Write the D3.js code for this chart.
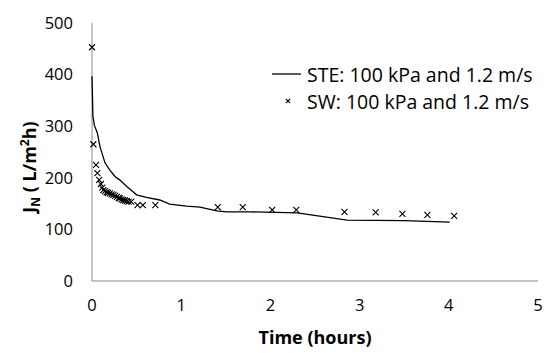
<!DOCTYPE html>
<html lang="en">
<head>
  <meta charset="UTF-8" />
  <title>Flux vs time</title>
  <style>
    body { margin: 0; background: #fff; }
    svg { display: block; background: #fff; font-family: "Open Sans", sans-serif; }
    .tick-label { font-size: 16.5px; fill: #000; }
    .axis-title { font-size: 18px; font-weight: bold; fill: #000; }
    .legend text { font-size: 19.5px; fill: #000; }
  </style>
</head>
<body>
  <svg id="chart" width="555" height="353" viewBox="0 0 555 353" xmlns="http://www.w3.org/2000/svg"></svg>

  <script src="https://d3js.org/d3.v7.min.js"></script>
  <script>
    const width = 555;
    const height = 353;
    const svg = d3.select("#chart");

    // STE line (time in hours, flux in L/m2h)
    const steTime = [0, 0.01, 0.026, 0.06, 0.09, 0.146, 0.2, 0.26, 0.31, 0.39, 0.44, 0.5, 0.61, 0.76, 0.87, 1.06, 1.21, 1.4, 1.51, 1.77, 2.3, 2.86, 3.5, 4.01];
    const steFlux = [397, 320, 302, 287, 260, 229, 215, 202, 196, 183, 176, 167, 162, 157, 149, 145, 143, 136, 134, 134, 132, 118, 117, 114];

    // SW scatter points
    const swTime = [0, 0.015, 0.045, 0.06, 0.08, 0.1, 0.115, 0.127, 0.145, 0.165, 0.18, 0.2, 0.22, 0.24, 0.26, 0.28, 0.3, 0.31, 0.33, 0.35, 0.37, 0.39, 0.41, 0.44, 0.51, 0.57, 0.71, 1.41, 1.69, 2.02, 2.29, 2.83, 3.18, 3.48, 3.76, 4.06];
    const swFlux = [453, 265, 225, 209, 196, 188, 181, 176, 174, 172, 171, 170, 168, 167, 165, 163, 161, 160, 158, 157, 156, 155, 154, 154, 147, 147, 147, 143, 143, 138, 138, 134, 133, 130, 128, 126];

    const xTicks = [0, 1, 2, 3, 4, 5];
    const yTicks = [0, 100, 200, 300, 400, 500];

    const legendLabels = ["STE: 100 kPa and 1.2 m/s", "SW: 100 kPa and 1.2 m/s"];

    const x = d3.scaleLinear().domain([0, 5]).range([92, 538]);
    const y = d3.scaleLinear().domain([0, 500]).range([281, 23]);

    // axes (no tick marks, grey lines)
    svg.append("line")
      .attr("x1", x(0)).attr("x2", x(0))
      .attr("y1", y(500)).attr("y2", y(0))
      .attr("stroke", "#888").attr("stroke-width", 1);
    svg.append("line")
      .attr("x1", x(0)).attr("x2", x(5))
      .attr("y1", y(0)).attr("y2", y(0))
      .attr("stroke", "#888").attr("stroke-width", 1);

    svg.append("g").selectAll("text")
      .data(yTicks)
      .enter().append("text")
      .attr("class", "tick-label")
      .attr("x", 73)
      .attr("y", d => y(d))
      .attr("dy", "0.35em")
      .attr("text-anchor", "end")
      .text(d => d);

    svg.append("g").selectAll("text")
      .data(xTicks)
      .enter().append("text")
      .attr("class", "tick-label")
      .attr("x", d => x(d))
      .attr("y", 305)
      .attr("dy", "0.35em")
      .attr("text-anchor", "middle")
      .text(d => d);

    // axis titles
    svg.append("text")
      .attr("class", "axis-title")
      .attr("x", 315)
      .attr("y", 338)
      .attr("dy", "0.35em")
      .attr("text-anchor", "middle")
      .text("Time (hours)");

    const yTitle = svg.append("text")
      .attr("class", "axis-title")
      .attr("transform", "translate(30,167) rotate(-90)")
      .attr("dy", "0.35em")
      .attr("text-anchor", "middle");
    yTitle.append("tspan").text("J");
    yTitle.append("tspan").attr("font-size", "12px").attr("dy", "4").text("N");
    yTitle.append("tspan").attr("dy", "-4").text(" ( L/m");
    yTitle.append("tspan").attr("font-size", "12px").attr("dy", "-7").text("2");
    yTitle.append("tspan").attr("dy", "7").text("h)");

    // STE line
    const steData = steTime.map((t, i) => [t, steFlux[i]]);
    const line = d3.line().x(d => x(d[0])).y(d => y(d[1]));
    svg.append("path")
      .datum(steData)
      .attr("d", line)
      .attr("fill", "none")
      .attr("stroke", "#000")
      .attr("stroke-width", 1.3);

    // SW crosses
    const cross = (g, cx, cy, r) => {
      g.append("path")
        .attr("d", `M${cx - r},${cy - r}L${cx + r},${cy + r}M${cx - r},${cy + r}L${cx + r},${cy - r}`)
        .attr("stroke", "#000")
        .attr("stroke-width", 1.1)
        .attr("fill", "none");
    };
    const swG = svg.append("g");
    swTime.forEach((t, i) => cross(swG, x(t), y(swFlux[i]), 3));

    // legend
    const legend = svg.append("g").attr("class", "legend");
    legend.append("line")
      .attr("x1", 272).attr("x2", 301)
      .attr("y1", 74).attr("y2", 74)
      .attr("stroke", "#000").attr("stroke-width", 1.3);
    legend.append("text").attr("x", 307).attr("y", 75).attr("dy", "0.35em").text(legendLabels[0]);
    cross(legend, 288, 101, 2.2);
    legend.append("text").attr("x", 307).attr("y", 102).attr("dy", "0.35em").text(legendLabels[1]);
  </script>
</body>
</html>
